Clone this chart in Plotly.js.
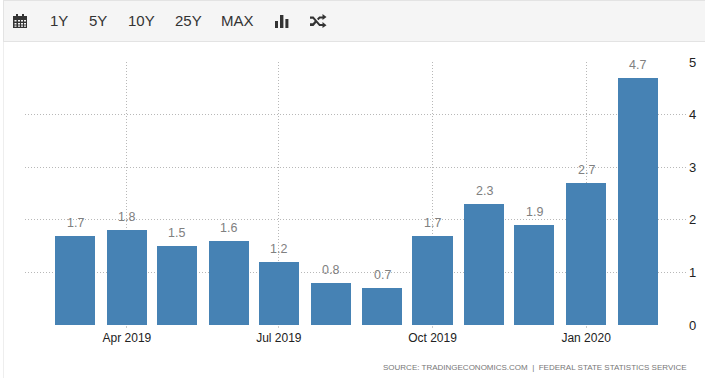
<!DOCTYPE html>
<html><head><meta charset="utf-8">
<script src="https://cdn.plot.ly/plotly-3.0.1.min.js"></script>
<style>
html,body{margin:0;padding:0;background:#fff;overflow:hidden}
#wrap{position:relative;width:705px;height:378px}
#chart{position:absolute;left:0;top:0;width:705px;height:378px}
#bar{position:absolute;left:3px;top:0;width:702px;height:42px;background:#f5f5f5;border:1px solid #e3e3e3;border-right:none;box-sizing:border-box;font-family:"Liberation Sans",Arial,sans-serif;font-size:15px;color:#333}
#bar span{position:absolute;top:11px;line-height:17px}
#bar svg{position:absolute}
#side{position:absolute;left:3px;top:41px;width:1px;height:337px;background:#eee}
</style></head><body>
<div id="wrap">
<div id="chart"></div>
<div id="side"></div>
<div id="bar">
<svg style="left:9px;top:12px" width="15" height="16" viewBox="0 0 15 16"><path d="M0 3h14v12H0z" fill="#333"/><path d="M3 1h2v3H3zM9 1h2v3H9z" fill="#333"/><path d="M1.500 7h2v1.500h-2zM5 7h2v1.500H5zM8 7h2v1.500H8zM11 7h2v1.500h-2zM1.500 10h2v1.500h-2zM5 10h2v1.500H5zM8 10h2v1.500H8zM11 10h2v1.500h-2zM1.500 12.600h2v1.200h-2zM5 12.600h2v1.200H5zM8 12.600h2v1.200H8zM11 12.600h2v1.200h-2z" fill="#f5f5f5"/></svg>
<span style="left:46px">1Y</span>
<span style="left:85px">5Y</span>
<span style="left:124px">10Y</span>
<span style="left:171px">25Y</span>
<span style="left:217px">MAX</span>
<svg style="left:271px;top:13px" width="14" height="14" viewBox="0 0 14 14"><path d="M0 7h3v7H0zM5 1h3.400v13H5zM10.400 5h3v9h-3z" fill="#333"/></svg>
<svg style="left:306px;top:13px" width="17" height="14" viewBox="0 0 17 14"><path d="M0 2.500h3.500L10 10h2.500V8l4 3.300-4 2.700v-2H9.200L2.800 4.800H0zM0 9.200h2.800L5 6.800l1.500 1.700L3.500 12H0zM9.200 2.500h3.300V0l4 3-4 3V4.500H10L8.500 6.300 7 4.700z" fill="#333"/></svg>
</div>
</div>
<script>
const months = ["2019-03-01","2019-04-01","2019-05-01","2019-06-01","2019-07-01","2019-08-01","2019-09-01","2019-10-01","2019-11-01","2019-12-01","2020-01-01","2020-02-01"];
const values = [1.7,1.8,1.5,1.6,1.2,0.8,0.7,1.7,2.3,1.9,2.7,4.7];
const labels = ["1.7","1.8","1.5","1.6","1.2","0.8","0.7","1.7","2.3","1.9","2.7","4.7"];
const source = "SOURCE: TRADINGECONOMICS.COM  |  FEDERAL STATE STATISTICS SERVICE";
const DAY = 86400000;
const FONT = "Liberation Sans, Arial, sans-serif";
const valueNotes = months.map((m,i)=>({xref:"x",yref:"y",x:m,y:values[i],text:labels[i],showarrow:false,
  xanchor:"center",yanchor:"bottom",yshift:4,
  font:{family:FONT,size:12.5,color:"#808080"}}));
Plotly.newPlot("chart",[{
  type:"bar",x:months,y:values,
  marker:{color:"#4682b4",line:{width:0}},width:24*DAY,hoverinfo:"x+y"
}],{
  width:705,height:378,autosize:false,showlegend:false,
  margin:{l:25,r:17,t:62,b:53,pad:0},
  paper_bgcolor:"#fff",plot_bgcolor:"#fff",
  font:{family:FONT,size:12,color:"#000"},
  xaxis:{type:"date",range:["2019-01-30","2020-03-02"],dtick:"M3",tick0:"2019-01-01",tickformat:"%b %Y",
    ticks:"outside",ticklen:2,tickcolor:"#ccc",tickfont:{size:12,color:"#222"},
    showgrid:true,gridcolor:"#b8b8b8",griddash:"1px,2px",gridwidth:1,zeroline:false,showline:false},
  yaxis:{side:"right",range:[0,5],dtick:1,tick0:0,ticks:"",tickfont:{size:13,color:"#222"},
    showgrid:true,gridcolor:"#b8b8b8",griddash:"1px,2px",gridwidth:1,zeroline:false,showline:false,ticklabelstandoff:0},
  annotations:valueNotes.concat([{xref:"paper",yref:"paper",x:1,y:0,xanchor:"right",yanchor:"top",xshift:1,yshift:-36,showarrow:false,
    text:source,font:{family:FONT,size:8,color:"#777"}}]),
  bargap:0
},{displayModeBar:false,responsive:false});
</script>
</body></html>
